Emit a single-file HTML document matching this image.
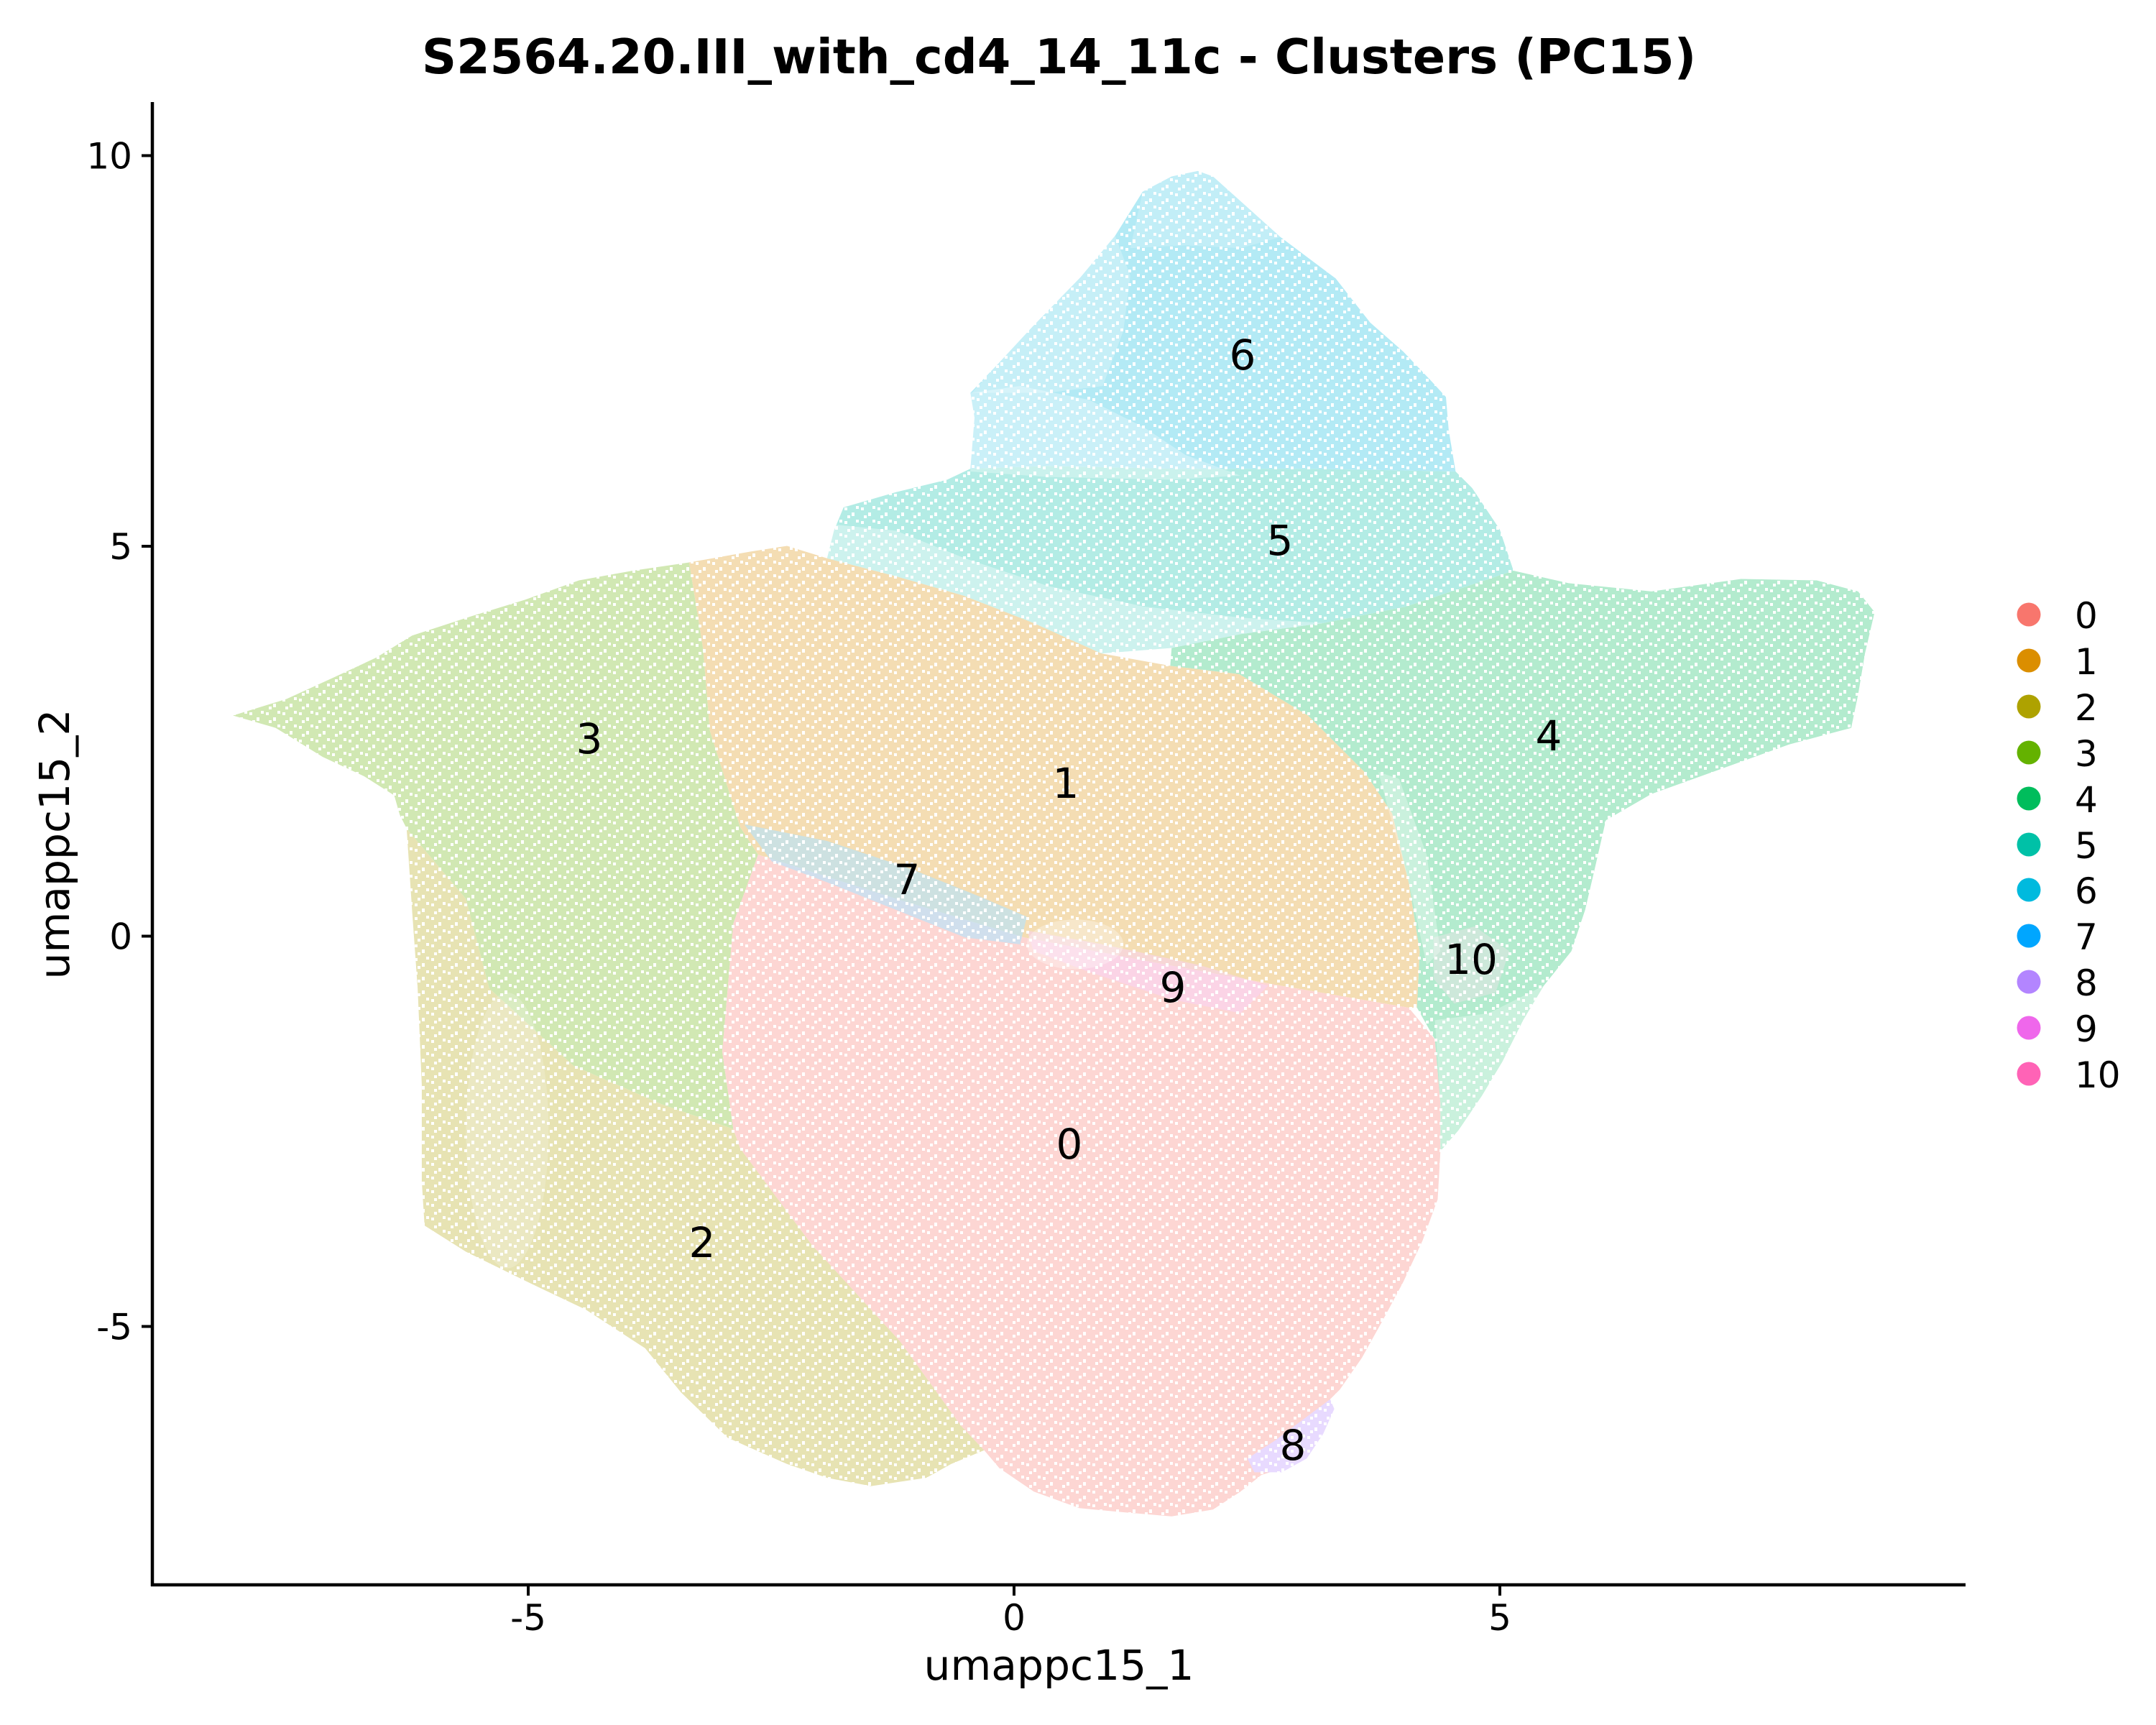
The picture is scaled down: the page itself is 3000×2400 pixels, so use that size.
<!DOCTYPE html>
<html>
<head>
<meta charset="utf-8">
<style>
html,body{margin:0;padding:0;background:#fff;}
svg{display:block;}
text{font-family:"DejaVu Sans","Liberation Sans",sans-serif;fill:#000;}
</style>
</head>
<body>
<svg width="3000" height="2400" viewBox="0 0 3000 2400" xmlns="http://www.w3.org/2000/svg">
<defs>
<pattern id="speck" patternUnits="userSpaceOnUse" width="23" height="19">
<rect x="2" y="3" width="4" height="4" fill="#fff"/>
<rect x="12" y="10" width="4" height="5" fill="#fff"/>
<rect x="18" y="1" width="4" height="4" fill="#fff"/>
<rect x="6" y="14" width="4" height="4" fill="#fff"/>
</pattern>
</defs>
<rect x="0" y="0" width="3000" height="2400" fill="#fff"/>

<g transform="scale(1.918)">
<!-- cluster 2 -->
<polygon fill="#E7E3B3" points="295,601 338,652 355,717 416,773 480,801 532,819 537,833 589,903 653,973 697,1034 714,1052 690,1062 672,1072 632,1078 600,1072 571,1062 528,1043 494,1010 468,978 425,950 385,931 338,908 308,889 306,857 306,787 303,717 299,661"/>
<!-- cluster 3 -->
<polygon fill="#D1E8B3" points="169,519 208,507 243,491 273,477 299,461 342,447 381,435 420,421 459,414 500,408 510,470 515,530 537,600 550,620 532,670 524,763 532,819 480,801 416,773 355,717 338,652 295,601 290,591 286,577 264,563 234,549 200,528"/>
<!-- cluster 1 -->
<polygon fill="#F4DDB3" points="500,408 545,400 571,396 600,405 650,418 699,432 750,452 799,474 849,483 899,489 949,519 990,560 1010,590 1022,640 1030,690 1028,731 1022,731 929,715 836,698 743,680 650,652 550,620 537,600 515,530 510,470"/>
<!-- cluster 0 -->
<polygon fill="#FDD6D3" points="550,620 650,652 743,680 836,698 929,715 1022,731 1041,754 1045,800 1045,835 1043,870 1032,900 1018,930 1003,958 988,985 972,1008 965,1015 958,1040 940,1062 915,1070 900,1082 880,1095 850,1100 815,1097 783,1094 750,1082 725,1065 714,1052 697,1034 653,973 589,903 537,833 532,819 524,763 532,670"/>
<!-- cluster 4 -->
<polygon fill="#B3EBCE" points="849,483 850,470 900,460 960,452 1020,440 1098,414 1138,423 1198,429 1263,420 1318,421 1348,429 1360,444 1353,474 1348,504 1343,528 1298,540 1248,558 1198,576 1165,595 1157,630 1150,660 1140,690 1120,715 1105,740 1090,770 1075,795 1058,820 1045,835 1045,800 1041,754 1028,731 1030,690 1022,640 1010,590 990,560 949,519 899,489"/>
<!-- cluster 5 -->
<polygon fill="#B3ECE5" points="612,368 650,357 687,348 704,340 760,338 850,340 950,340 1056,342 1068,354 1088,384 1098,414 1020,440 960,452 900,460 850,470 799,474 750,452 699,432 650,418 600,405 605,385"/>
<!-- cluster 6 -->
<polygon fill="#B3EAF5" points="704,285 724,264 749,237 784,201 809,171 829,139 850,128 869,124 880,128 909,154 929,172 969,202 994,234 1018,255 1038,276 1049,288 1051,312 1056,342 950,340 850,340 760,338 704,340 707,303"/>
<!-- cluster 7 streak -->
<polygon fill="#B3E4FF" opacity="0.6" points="540,598 600,610 660,630 710,650 745,665 740,685 700,680 650,660 600,640 560,625"/>
<!-- cluster 9 -->
<polygon fill="#FAD1F9" opacity="0.5" points="745,675 800,685 870,700 920,715 900,735 850,725 790,705 750,690"/>
<!-- cluster 10 -->
<polygon fill="#FFE3F0" opacity="0.35" points="1040,680 1070,672 1095,690 1085,720 1055,728 1040,710"/>
<!-- cluster 8 -->
<polygon fill="#E8DAFF" points="965,1015 968,1022 960,1040 948,1058 930,1068 910,1068 905,1058 925,1045 945,1030"/>

<!-- sparse areas -->
<g fill="#fff">
<polygon opacity="0.3" points="704,285 740,280 790,290 830,310 860,330 900,345 850,348 760,346 704,342"/>
<polygon opacity="0.25" points="705,285 724,264 749,237 784,201 809,171 820,200 815,240 800,280 760,285"/>
<polygon opacity="0.2" points="829,139 850,128 869,124 880,128 909,154 929,172 900,180 860,178 820,180"/>
<polygon opacity="0.35" points="600,380 650,385 700,405 760,425 830,440 900,448 960,452 900,460 850,470 799,474 750,452 699,432 650,418 600,405"/>
<ellipse opacity="0.2" cx="368" cy="820" rx="30" ry="100"/>
<polygon opacity="0.3" points="1041,740 1080,735 1120,715 1105,740 1090,770 1075,795 1058,820 1045,835 1045,800"/>
<ellipse opacity="0.3" cx="780" cy="685" rx="35" ry="18"/>
<polygon opacity="0.3" points="1000,560 1015,565 1035,620 1045,690 1035,700 1022,640 1008,590"/>
</g>
</g>

<!-- speckle -->
<rect x="214" y="140" width="2521" height="2063" fill="url(#speck)"/>

<!-- cluster labels -->
<g font-size="58" text-anchor="middle">
<text x="1729" y="514">6</text>
<text x="1781" y="772">5</text>
<text x="2155" y="1044">4</text>
<text x="820" y="1048">3</text>
<text x="1483" y="1110">1</text>
<text x="1262" y="1244">7</text>
<text x="2047" y="1355">10</text>
<text x="1632" y="1394">9</text>
<text x="1488" y="1612">0</text>
<text x="977" y="1749">2</text>
<text x="1799" y="2031">8</text>
</g>

<!-- axes -->
<g stroke="#000" stroke-width="4.5" fill="none">
<line x1="212" y1="142" x2="212" y2="2207"/>
<line x1="210" y1="2205" x2="2735" y2="2205"/>
</g>
<g stroke="#000" stroke-width="4">
<line x1="735" y1="2205" x2="735" y2="2220"/>
<line x1="1411" y1="2205" x2="1411" y2="2220"/>
<line x1="2087" y1="2205" x2="2087" y2="2220"/>
<line x1="197" y1="216.5" x2="212" y2="216.5"/>
<line x1="197" y1="760" x2="212" y2="760"/>
<line x1="197" y1="1302.5" x2="212" y2="1302.5"/>
<line x1="197" y1="1845.5" x2="212" y2="1845.5"/>
</g>
<g font-size="50" text-anchor="middle">
<text x="735" y="2268">-5</text>
<text x="1411" y="2268">0</text>
<text x="2087" y="2268">5</text>
</g>
<g font-size="50" text-anchor="end">
<text x="184" y="234.5">10</text>
<text x="184" y="778">5</text>
<text x="184" y="1320.5">0</text>
<text x="184" y="1863.5">-5</text>
</g>

<!-- axis titles -->
<text x="1473.5" y="2337" font-size="58.3" text-anchor="middle">umappc15_1</text>
<text transform="translate(96,1174.5) rotate(-90)" font-size="58.3" text-anchor="middle">umappc15_2</text>

<!-- title -->
<text x="1473.5" y="102" font-size="67" font-weight="bold" text-anchor="middle">S2564.20.III_with_cd4_14_11c - Clusters (PC15)</text>

<!-- legend -->
<g>
<circle cx="2823" cy="855" r="16.5" fill="#F8766D"/>
<circle cx="2823" cy="919" r="16.5" fill="#DB8E00"/>
<circle cx="2823" cy="983" r="16.5" fill="#AEA200"/>
<circle cx="2823" cy="1047" r="16.5" fill="#64B200"/>
<circle cx="2823" cy="1111" r="16.5" fill="#00BD5C"/>
<circle cx="2823" cy="1175" r="16.5" fill="#00C1A7"/>
<circle cx="2823" cy="1238" r="16.5" fill="#00BADE"/>
<circle cx="2823" cy="1302" r="16.5" fill="#00A6FF"/>
<circle cx="2823" cy="1366" r="16.5" fill="#B385FF"/>
<circle cx="2823" cy="1430" r="16.5" fill="#EF67EB"/>
<circle cx="2823" cy="1494" r="16.5" fill="#FF63B6"/>
</g>
<g font-size="50">
<text x="2887" y="874">0</text>
<text x="2887" y="938">1</text>
<text x="2887" y="1002">2</text>
<text x="2887" y="1066">3</text>
<text x="2887" y="1130">4</text>
<text x="2887" y="1194">5</text>
<text x="2887" y="1257">6</text>
<text x="2887" y="1321">7</text>
<text x="2887" y="1385">8</text>
<text x="2887" y="1449">9</text>
<text x="2887" y="1513">10</text>
</g>
</svg>
</body>
</html>
